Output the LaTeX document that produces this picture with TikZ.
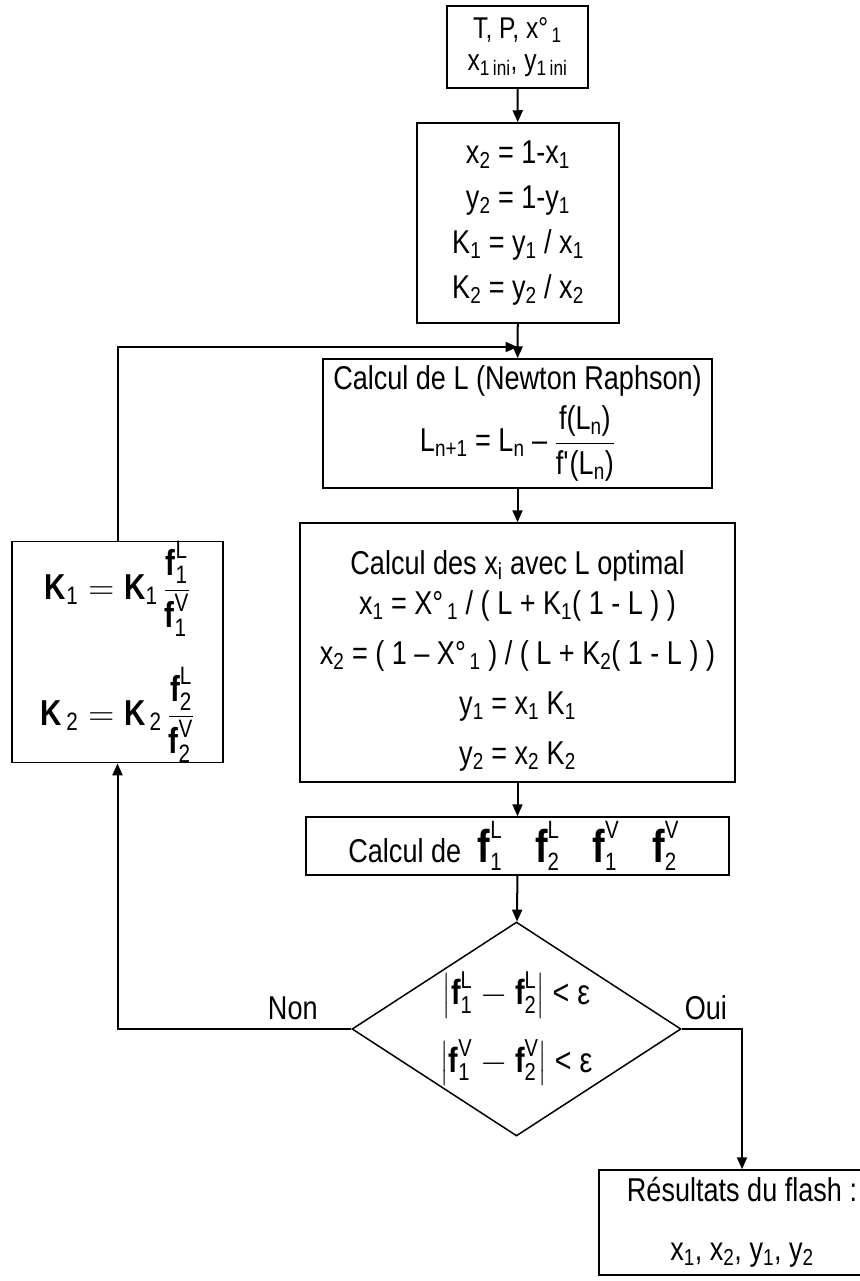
\documentclass[tikz,border=0pt]{standalone}
\usepackage{fix-cm}
\usepackage{amsmath}
\usepackage{fontspec}
\setmainfont{Liberation Sans}[FakeStretch=0.82]
\usetikzlibrary{positioning,arrows.meta,shapes.geometric}

\newcommand{\ix}[1]{\textsubscript{#1}}
% fugacite f_i^phase (gras)
\newcommand{\fug}[2]{\text{\bfseries f}^{\text{#2}}_{\text{#1}}}
\newcommand{\fgros}[2]{\text{\fontsize{46}{46}\selectfont\bfseries f}^{\text{\fontsize{25}{25}\selectfont #2}}_{\text{\fontsize{25}{25}\selectfont #1}}}

\begin{document}
\begin{tikzpicture}[
        x=1pt, y=-1pt,
        >={Triangle[length=12pt,width=10pt]},
        box/.style={
            rectangle,
            draw=black,
            line width=1.5pt,
            align=center,
            inner sep=0pt,
            font=\fontsize{33}{45}\selectfont
        },
        test/.style={
            diamond,
            draw=black,
            line width=1.5pt,
            aspect=1.54,
            align=center,
            inner sep=0pt,
            font=\fontsize{35}{45}\selectfont
        },
        label/.style={font=\fontsize{33}{36}\selectfont},
        arrow/.style={->,line width=2pt}
    ]

    \useasboundingbox (0,0) rectangle (859,1281);

    \node[box, minimum width=141, minimum height=82, font=\fontsize{30}{32}\selectfont] (donnees) at (517.5,47) {
        T, P, x°\ix{\,1}\\
        x\ix{1\,ini}, y\ix{1\,ini}
    };

    \node[box, minimum width=202, minimum height=200] (init) at (518,223) {
        x\ix{2} = 1-x\ix{1}\\
        y\ix{2} = 1-y\ix{1}\\
        K\ix{1} = y\ix{1} / x\ix{1}\\
        K\ix{2} = y\ix{2} / x\ix{2}
    };

    \node[box, minimum width=389, minimum height=129] (newton) at (517.5,423.5) {
        Calcul de L (Newton Raphson)\\[8pt]
        L\ix{n+1} = L\ix{n} – $\dfrac{\text{f(L\ix{n})}}{\text{f\textquotesingle(L\ix{n})}}$
    };

    \node[box, minimum width=435, minimum height=259, font=\fontsize{33}{50}\selectfont] (calculx) at (517.5,652.5) {
        \rule{0pt}{40pt}Calcul des x\ix{i} avec L optimal\\[-10pt]
        x\ix{1} = X°\ix{\,1} / ( L + K\ix{1}( 1 - L ) )\\
        x\ix{2} = ( 1 – X°\ix{\,1} ) / ( L + K\ix{2}( 1 - L ) )\\
        y\ix{1} = x\ix{1} K\ix{1}\\
        y\ix{2} = x\ix{2} K\ix{2}
    };

    \node[box, minimum width=423, minimum height=58] (calculf) at (517.5,846) {
        Calcul de\enspace $\fgros{1}{L}$\quad $\fgros{2}{L}$\quad $\fgros{1}{V}$\quad $\fgros{2}{V}$
    };

    \node[test, minimum width=329, minimum height=214] (test) at (516.5,1029) {
        $\left|\fug{1}{L} - \fug{2}{L}\right|$ < ε\\[20pt]
        $\left|\fug{1}{V} - \fug{2}{V}\right|$ < ε
    };

    \node[box, minimum width=211, minimum height=206, font=\fontsize{36}{45}\selectfont] (correction) at (117.5,652) {
        $\text{\bfseries K}_{\text{1}} = \text{\bfseries K}_{\text{1}}\,\dfrac{\fug{1}{L}}{\fug{1}{V}}$\\[30pt]
        $\text{\bfseries K}_{\,\text{2}} = \text{\bfseries K}_{\,\text{2}}\,\dfrac{\fug{2}{L}}{\fug{2}{V}}$
    };

    \node[box, minimum width=286, minimum height=105] (resultats) at (742,1222.5) {
        Résultats du flash :\\[14pt]
        x\ix{1}, x\ix{2}, y\ix{1}, y\ix{2}
    };

    \coordinate (retour) at (517.5,347);

    \draw[arrow] (donnees) -- (init);
    \draw[arrow] (init) -- (newton);
    \draw[arrow] (newton) -- (calculx);
    \draw[arrow] (calculx) -- (calculf);
    \draw[arrow] (calculf) -- (test);
    \draw[arrow] (test.west) -- node[label, pos=0.25, above=5pt] {Non} (test.west -| correction) -- (correction.south);
    \draw[arrow] (correction.north) |- (retour);
    \draw[arrow] (test.east) -| node[label, pos=0.2, above=5pt] {Oui} (resultats.north);

\end{tikzpicture}
\end{document}
